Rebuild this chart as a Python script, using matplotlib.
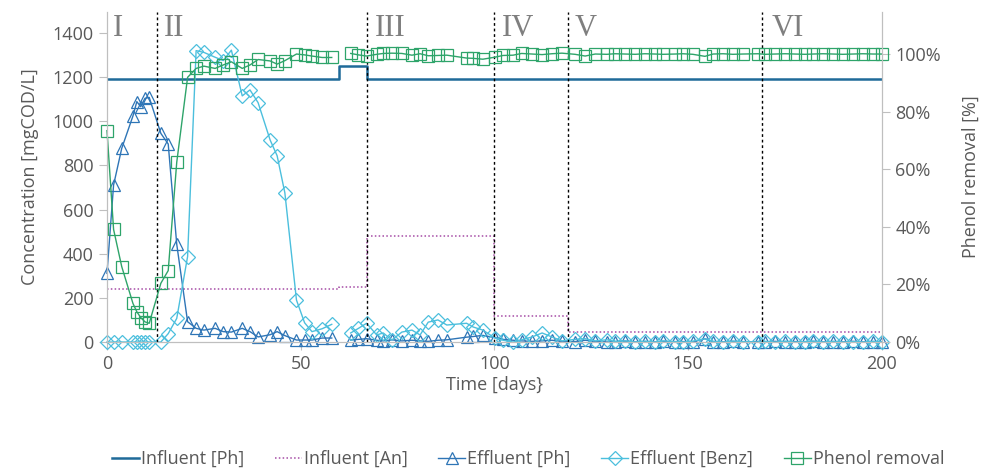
import matplotlib.pyplot as plt
import numpy as np

# sampling days (nan = gap in the record)
days = [0, 1.7, 3.8, 6.7, 7.7, 8.7, 9.8, 10.9, 13.9, 15.8, 18.0, 20.8, 23.0, 25.0,
        27.9, 30.0, 32.1, 34.9, 36.9, 39.0, 42.1, 43.9, 45.9, 48.9, 51.0, 52.9,
        55.5, 58.0, np.nan, 62.9, 64.9, 67.0, 69.6, 71.3, 73.5, 76.1, 78.7, 80.8,
        82.9, 85.4, 87.7, 92.8, 94.5, 97.0, 100.1, 102.2, 104.8, 107.0, 109.7,
        112.3, 114.8, 117.4, 120.8, 123.4, 126.0, 129.0, 131.1, 133.7, 136.3,
        138.8, 141.4, 143.5, 146.6, 148.6, 151.2, 154.3, 156.4, 159.0, 161.5,
        164.1, 168.0, 169.8, 172.4, 175.0, 177.5, 180.1, 182.2, 184.8, 187.4,
        189.9, 192.5, 195.1, 197.7, 200.0]

eff_ph = [311, 711, 877, 1024, 1089, 1066, 1104, 1108, 945, 897, 443, 92, 62, 54,
          62, 47, 45, 62, 47, 23, 33, 47, 29, 9, 9, 9,
          18, 18, np.nan, 9, 12, 15, 8, 5, 10, 5, 8, 5,
          3, 8, 10, 22, 25, 30, 20, 12, 8, 5, 3,
          5, 8, 3, 2, 8, 3, 0, 2, 4, 0, 2,
          0, 3, 0, 2, 0, 15, 2, 0, 3, 0,
          2, 0, 3, 0, 2, 0, 3, 0, 2,
          0, 3, 0, 2, 0]

eff_benz = [0, 0, 0, 0, 0, 0, 0, 0, 0, 38, 107, 387, 1320, 1312,
            1290, 1275, 1322, 1115, 1142, 1084, 915, 844, 676, 190, 87, 47,
            60, 80, np.nan, 41, 62, 85, 32, 41, 9, 45, 54, 32,
            90, 100, 77, 85, 68, 54, 18, 8, 0, 10, 23,
            41, 23, 5, 12, 15, 5, 10, 3, 5, 0, 4,
            0, 5, 2, 0, 4, 15, 3, 0, 4, 2,
            0, 3, 0, 4, 0, 2, 4, 0, 3,
            0, 2, 0, 3, 0]

removal = [73.4, 39.1, 26.2, 13.4, 10.5, 8.5, 7.0, 6.5, 20.4, 24.8, 62.4, 91.9, 95.0, 95.8,
           95.0, 96.2, 97.3, 95.0, 96.2, 98.1, 97.6, 96.5, 97.7, 100.0, 99.7, 99.3,
           98.8, 98.8, np.nan, 100.2, 99.7, 99.3, 99.9, 100.2, 100.3, 100.2, 99.6, 100.1,
           99.4, 99.5, 99.6, 98.6, 98.5, 98.2, 98.9, 99.5, 99.6, 100.2, 100.0,
           99.8, 100.1, 100.3, 99.9, 99.3, 100.0, 99.9, 100.1, 100.0, 99.9, 100.1,
           100.0, 99.9, 100.0, 100.1, 99.9, 99.2, 100.0, 100.1, 99.9, 100.0,
           100.1, 99.9, 100.0, 100.1, 100.0, 99.9, 100.0, 100.1, 100.0,
           99.9, 100.0, 100.1, 100.0, 100.0]

# influent steps
inf_ph_x = [0, 60, 60, 67, 67, 200]
inf_ph_y = [1190, 1190, 1250, 1250, 1190, 1190]
inf_an_x = [0, 60, 60, 67, 67, 100, 100, 119, 119, 200]
inf_an_y = [240, 240, 250, 250, 480, 480, 118, 118, 45, 45]

phase_x = [13, 67, 100, 119, 169]
phase_labels = ['I', 'II', 'III', 'IV', 'V', 'VI']
phase_label_x = [1.5, 14.6, 69.1, 101.9, 120.8, 171.4]

plt.rcParams['font.family'] = ['Open Sans', 'DejaVu Sans']
grey_txt = '#595959'
grey_ax = '#BFBFBF'

fig = plt.figure(figsize=(9.87, 4.68), dpi=100)
ax = fig.add_axes([0.1084, 0.2692, 0.7852, 0.7052])
ax2 = ax.twinx()

c_inph = '#1F6A99'
c_inan = '#A64CA6'
c_effph = '#2E75B6'
c_benz = '#4BBFDD'
c_rem = '#2EA46A'

l1, = ax.plot(inf_ph_x, inf_ph_y, color=c_inph, lw=1.8, label='Influent [Ph]')
l2, = ax.plot(inf_an_x, inf_an_y, color=c_inan, lw=1.1, ls=(0, (1, 1.5)), label='Influent [An]')
l3, = ax.plot(days, eff_ph, color=c_effph, lw=1, marker='^', ms=9, mfc='none', mew=0.9,
              label='Effluent [Ph]', clip_on=False)
l4, = ax.plot(days, eff_benz, color=c_benz, lw=1, marker='D', ms=7, mfc='none', mew=0.9,
              label='Effluent [Benz]', clip_on=False)
l5, = ax2.plot(days, removal, color=c_rem, lw=1, marker='s', ms=8.5, mfc='none', mew=0.9,
               label='Phenol removal', clip_on=False)

for x in phase_x:
    ax.axvline(x, color='black', lw=1, ls=(0, (2, 2)))
for lab, x in zip(phase_labels, phase_label_x):
    ax.text(x, 1385, lab, family='Liberation Serif', fontsize=22, color='#7F7F7F',
            va='baseline', ha='left')

ax.set_xlim(0, 200)
ax.set_ylim(0, 1495)
ax2.set_ylim(0, 114.6)
ax.set_xticks([0, 50, 100, 150, 200])
ax.set_yticks(range(0, 1401, 200))
ax2.set_yticks(range(0, 101, 20))
ax2.set_yticklabels([f'{v}%' for v in range(0, 101, 20)])

for a in (ax, ax2):
    a.spines['top'].set_visible(False)
    for s in ('left', 'right', 'bottom'):
        a.spines[s].set_color(grey_ax)
    a.tick_params(colors=grey_ax, labelcolor=grey_txt, labelsize=13, length=6)

ax.set_xlabel('Time [days}', fontsize=13, color=grey_txt, labelpad=2)
ax.set_ylabel('Concentration [mgCOD/L]', fontsize=13, color=grey_txt, labelpad=10)
ax2.set_ylabel('Phenol removal [%]', fontsize=13, color=grey_txt, labelpad=15)

fig.legend(handles=[l1, l2, l3, l4, l5], loc='lower center', bbox_to_anchor=(0.535, -0.035),
           ncol=5, frameon=False, fontsize=13, labelcolor=grey_txt, handlelength=1.5,
           handletextpad=0.1, columnspacing=1.7)

fig.savefig('out.png', dpi=100)
